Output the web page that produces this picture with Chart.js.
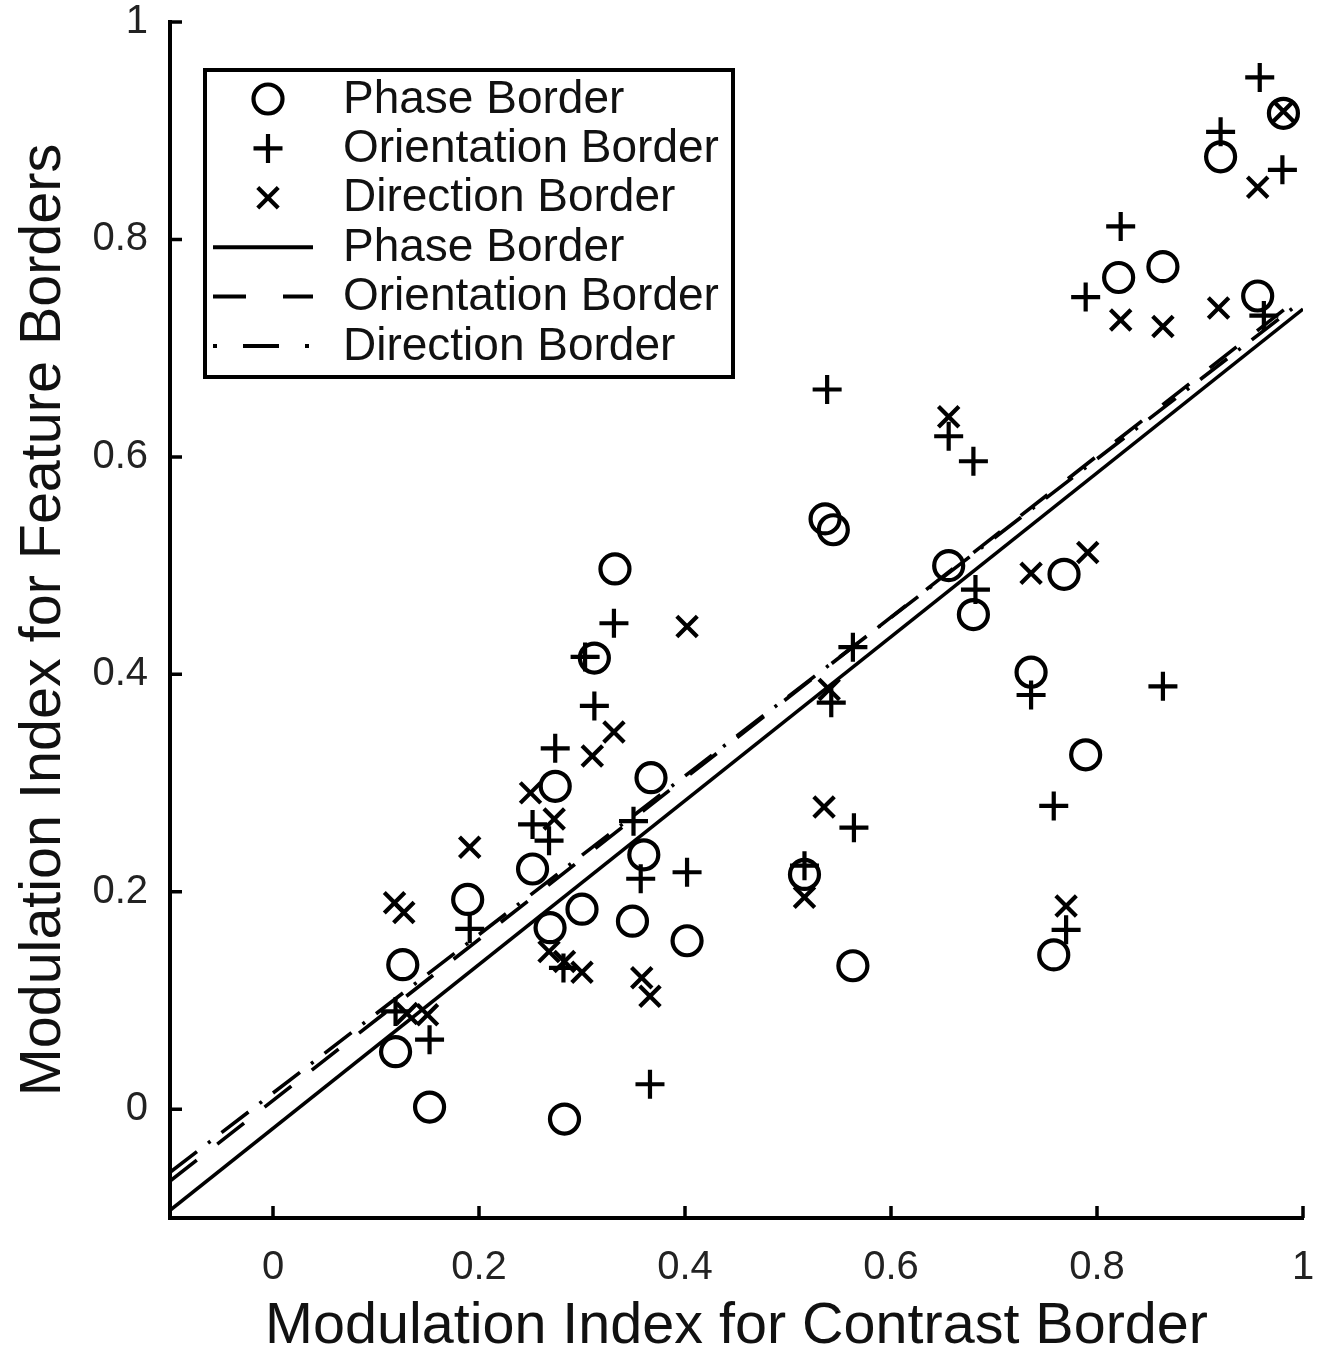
<!DOCTYPE html>
<html>
<head>
<meta charset="utf-8">
<title>Modulation index: feature vs contrast border</title>
<script src="https://cdn.jsdelivr.net/npm/chart.js@4.4.1/dist/chart.umd.min.js"></script>
<style>
  html, body { margin: 0; padding: 0; background: #fff; }
</style>
</head>
<body>
<canvas id="chart" width="1323" height="1351"></canvas>
<script>
// points: [contrast border MI, feature border MI]
const phasePts = [
  [0.119, 0.053], [0.126, 0.133], [0.152, 0.002], [0.189, 0.193], [0.252, 0.221],
  [0.269, 0.167], [0.274, 0.297], [0.283, -0.009], [0.300, 0.184], [0.312, 0.415],
  [0.332, 0.497], [0.349, 0.173], [0.360, 0.234], [0.367, 0.305], [0.402, 0.155],
  [0.516, 0.216], [0.536, 0.543], [0.544, 0.533], [0.563, 0.132], [0.656, 0.500],
  [0.680, 0.455], [0.736, 0.402], [0.758, 0.142], [0.768, 0.492], [0.789, 0.326],
  [0.821, 0.765], [0.864, 0.775], [0.920, 0.876], [0.956, 0.748], [0.981, 0.916]
];
const orientPts = [
  [0.119, 0.090], [0.152, 0.064], [0.191, 0.166], [0.252, 0.262], [0.268, 0.247],
  [0.274, 0.332], [0.282, 0.130], [0.303, 0.416], [0.312, 0.371], [0.331, 0.447],
  [0.350, 0.265], [0.357, 0.212], [0.366, 0.023], [0.402, 0.218], [0.516, 0.224],
  [0.538, 0.662], [0.542, 0.374], [0.563, 0.425], [0.564, 0.259], [0.656, 0.619],
  [0.680, 0.596], [0.682, 0.478], [0.736, 0.381], [0.758, 0.279], [0.770, 0.165],
  [0.789, 0.747], [0.823, 0.812], [0.864, 0.389], [0.920, 0.899], [0.958, 0.949],
  [0.962, 0.730], [0.980, 0.864]
];
const dirPts = [
  [0.118, 0.190], [0.127, 0.181], [0.130, 0.088], [0.150, 0.087], [0.191, 0.241],
  [0.250, 0.291], [0.273, 0.267], [0.268, 0.145], [0.283, 0.136], [0.300, 0.126],
  [0.310, 0.325], [0.331, 0.347], [0.358, 0.121], [0.366, 0.104], [0.402, 0.444],
  [0.516, 0.195], [0.535, 0.278], [0.540, 0.386], [0.656, 0.637], [0.736, 0.493],
  [0.770, 0.187], [0.791, 0.512], [0.823, 0.726], [0.864, 0.720], [0.918, 0.737],
  [0.956, 0.848], [0.981, 0.918]
];

// regression lines, end points at the axis limits
const phaseFit = [[-0.1, -0.093], [1, 0.736]];
const orientFit = [[-0.1, -0.066], [1, 0.749]];
const dirFit = [[-0.1, -0.058], [1, 0.744]];

const xTicks = [0, 0.2, 0.4, 0.6, 0.8, 1];
const yTicks = [0, 0.2, 0.4, 0.6, 0.8, 1];
const xTitle = 'Modulation Index for Contrast Border';
const yTitle = 'Modulation Index for Feature Borders';

const toXY = arr => arr.map(p => ({ x: p[0], y: p[1] }));
const fmt = v => (v === 0 || v === 1) ? String(v) : v.toFixed(1);

Chart.defaults.font.family = '"Liberation Sans", Arial, sans-serif';
Chart.defaults.color = '#111';

// matlab style ticks pointing into the plot
const inwardTicks = {
  id: 'inwardTicks',
  afterDraw(chart) {
    const { ctx, chartArea: a, scales: { x, y } } = chart;
    ctx.save();
    ctx.strokeStyle = '#000';
    ctx.lineWidth = 3.5;
    ctx.beginPath();
    x.ticks.forEach(t => {
      const px = x.getPixelForValue(t.value);
      ctx.moveTo(px, a.bottom);
      ctx.lineTo(px, a.bottom - 12);
    });
    y.ticks.forEach(t => {
      const py = y.getPixelForValue(t.value);
      ctx.moveTo(a.left, py);
      ctx.lineTo(a.left + 12, py);
    });
    ctx.stroke();
    ctx.restore();
  }
};

// boxed legend in the upper left corner
const boxLegend = {
  id: 'boxLegend',
  afterDraw(chart) {
    const ctx = chart.ctx;
    const a = chart.chartArea;
    const left = a.left + 35, top = 70, w = 528, h = 307;
    const symX = left + 63, textX = left + 138;
    const lineDashes = [[], [33, 37], [4, 26, 36, 26, 4]];
    ctx.save();
    ctx.fillStyle = '#fff';
    ctx.fillRect(left, top, w, h);
    ctx.strokeStyle = '#000';
    ctx.lineWidth = 4;
    ctx.strokeRect(left, top, w, h);
    chart.data.datasets.forEach((ds, i) => {
      const rowY = top + 29 + i * 49.4;
      ctx.strokeStyle = '#000';
      if (!ds.showLine) {
        ctx.fillStyle = 'rgba(0,0,0,0)';
        ctx.lineWidth = ds.pointBorderWidth;
        Chart.helpers.drawPoint(ctx, {
          pointStyle: ds.pointStyle, radius: ds.pointRadius,
          borderWidth: ds.pointBorderWidth, rotation: 0
        }, symX, rowY);
      } else {
        ctx.lineWidth = 4;
        ctx.setLineDash(lineDashes[i - 3]);
        ctx.beginPath();
        ctx.moveTo(left + 8, rowY);
        ctx.lineTo(left + 108, rowY);
        ctx.stroke();
        ctx.setLineDash([]);
      }
      ctx.fillStyle = '#111';
      ctx.font = '46px "Liberation Sans", Arial, sans-serif';
      ctx.textAlign = 'left';
      ctx.textBaseline = 'middle';
      ctx.fillText(ds.label, textX, rowY + 1);
    });
    ctx.restore();
  }
};

// fixed axis sizes, no extra room asked for by the edge labels
const fixY = s => { s.width = 170; s.paddingTop = 0; s.paddingBottom = 0; s.paddingLeft = 0; s.paddingRight = 0; };
const fixX = s => { s.height = 133; s.paddingTop = 0; s.paddingBottom = 0; s.paddingLeft = 0; s.paddingRight = 0; };

const markerBase = {
  showLine: false, borderColor: '#000', backgroundColor: 'rgba(0,0,0,0)',
  pointBorderWidth: 4.2, pointHoverBorderWidth: 4.2
};
const lineBase = {
  showLine: true, borderColor: '#000', borderWidth: 3.6,
  pointRadius: 0, pointHoverRadius: 0, fill: false
};

const ctx = document.getElementById('chart').getContext('2d');
const myChart = new Chart(ctx, {
  type: 'scatter',
  data: {
    datasets: [
      Object.assign({}, markerBase, { label: 'Phase Border', data: toXY(phasePts), pointStyle: 'circle', pointRadius: 14.5, pointHoverRadius: 14.5 }),
      Object.assign({}, markerBase, { label: 'Orientation Border', data: toXY(orientPts), pointStyle: 'cross', pointRadius: 14.5, pointHoverRadius: 14.5 }),
      Object.assign({}, markerBase, { label: 'Direction Border', data: toXY(dirPts), pointStyle: 'crossRot', pointRadius: 14.5, pointHoverRadius: 14.5 }),
      Object.assign({}, lineBase, { label: 'Phase Border', data: toXY(phaseFit) }),
      Object.assign({}, lineBase, { label: 'Orientation Border', data: toXY(orientFit), borderDash: [34, 26] }),
      Object.assign({}, lineBase, { label: 'Direction Border', data: toXY(dirFit), borderDash: [34, 14, 3, 14] })
    ]
  },
  options: {
    responsive: false,
    animation: false,
    layout: { padding: { left: 0, top: 22, right: 20, bottom: 0 } },
    plugins: { legend: { display: false }, tooltip: { enabled: false } },
    scales: {
      x: {
        type: 'linear', min: -0.1, max: 1,
        afterBuildTicks: s => { s.ticks = xTicks.map(v => ({ value: v })); },
        afterFit: fixX,
        grid: { display: false, drawTicks: false },
        border: { display: true, color: '#000', width: 4 },
        ticks: { padding: 30, color: '#222', font: { size: 40, lineHeight: 1 }, callback: v => fmt(v) },
        title: { display: true, text: xTitle, color: '#111', font: { size: 57.5, lineHeight: 0.8 }, padding: { top: 0, bottom: 1 } }
      },
      y: {
        type: 'linear', min: -0.1, max: 1,
        afterBuildTicks: s => { s.ticks = yTicks.map(v => ({ value: v })); },
        afterFit: fixY,
        grid: { display: false, drawTicks: false },
        border: { display: true, color: '#000', width: 4 },
        ticks: { padding: 22, color: '#222', font: { size: 40, lineHeight: 1 }, callback: v => fmt(v) },
        title: { display: true, text: yTitle, color: '#111', font: { size: 57.5, lineHeight: 0.8 }, padding: { top: 21, bottom: 0 } }
      }
    }
  },
  plugins: [inwardTicks, boxLegend]
});
</script>
</body>
</html>
